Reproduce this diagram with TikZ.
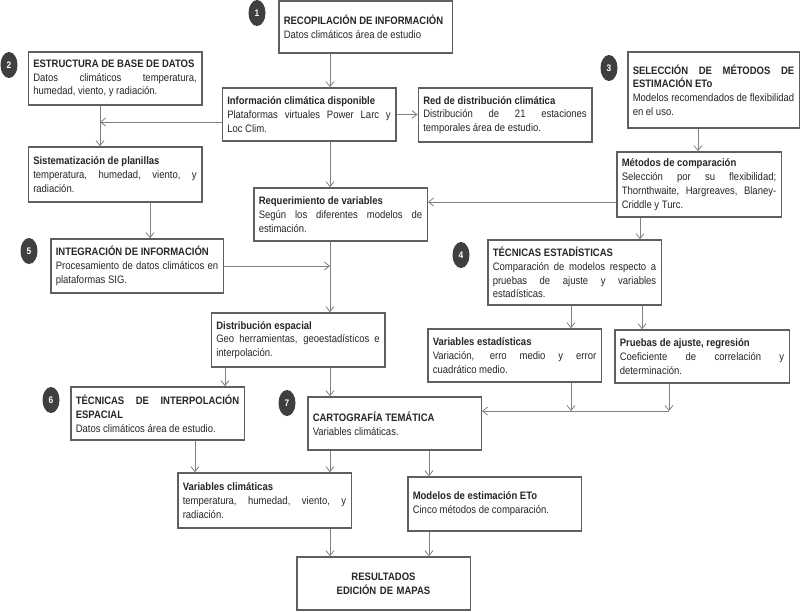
\documentclass[tikz,border=0pt]{standalone}
\usepackage{fontspec}
\setmainfont[FakeStretch=0.88]{Liberation Sans}
\usepackage{tikz}
\usetikzlibrary{arrows.meta,positioning,shapes.geometric}
\definecolor{boxgray}{HTML}{5F5F5F}
\definecolor{linegray}{HTML}{808080}
\definecolor{dotgray}{HTML}{3F3F3F}
\definecolor{ink}{HTML}{262626}

\begin{document}
\begin{tikzpicture}[x=1pt,y=-1pt,
    box/.style={draw=boxgray,line width=1.5pt,fill=white,align=justify,text width=163.5pt,minimum height=53pt,inner xsep=5pt,inner ysep=3pt,text=ink,font=\fontsize{10.8}{13.8}\selectfont},
    num/.style={ellipse,fill=dotgray,text=white,font=\bfseries\fontsize{9.5}{9.5}\selectfont,minimum width=17pt,minimum height=26pt,inner sep=0pt},
    arrow/.style={-{Straight Barb[length=5pt,width=8pt]},color=linegray,line width=0.8pt}
  ]
    \useasboundingbox (0,0) rectangle (802,611);
    \node[box,minimum height=52pt] (rec) at (365.5,27) {\textbf{RECOPILACIÓN DE INFORMACIÓN}\\Datos climáticos área de estudio};
    \node[box] (estr) at (115,78.5) {\textbf{ESTRUCTURA DE BASE DE DATOS}\\Datos climáticos temperatura,\linebreak humedad, viento, y radiación.};
    \node[box] (info) at (309,114.5) {\textbf{Información climática disponible}\\Plataformas virtuales Power Larc y\linebreak Loc Clim.};
    \node[box,minimum height=54pt] (red) at (505,115) {\textbf{Red de distribución climática}\\Distribución de 21 estaciones\linebreak temporales área de estudio.};
    \node[box,text width=161.5pt,minimum height=76pt] (sel) at (713.5,90) {\textbf{SELECCIÓN DE MÉTODOS DE\linebreak ESTIMACIÓN ETo}\\Modelos recomendados de flexibilidad\linebreak en el uso.};
    \node[box,minimum height=55pt] (sist) at (115,174.5) {\textbf{Sistematización de planillas}\\temperatura, humedad, viento, y\linebreak radiación.};
    \node[box] (req) at (340.5,214.5) {\textbf{Requerimiento de variables}\\Según los diferentes modelos de\linebreak estimación.};
    \node[box,text width=154.5pt,minimum height=65pt] (met) at (699,184.5) {\textbf{Métodos de comparación}\\Selección por su flexibilidad;\linebreak Thornthwaite, Hargreaves, Blaney-\linebreak Criddle y Turc.};
    \node[box,minimum height=65pt] (tecest) at (574.5,272.5) {\textbf{TÉCNICAS ESTADÍSTICAS}\\Comparación de modelos respecto a\linebreak pruebas de ajuste y variables\linebreak estadísticas.};
    \node[box,text width=162.5pt,minimum height=54pt] (integ) at (137,266) {\textbf{INTEGRACIÓN DE INFORMACIÓN}\\Procesamiento de datos climáticos en\linebreak plataformas SIG.};
    \node[box,minimum height=54pt] (dist) at (298,340) {\textbf{Distribución espacial}\\Geo herramientas, geoestadísticos e\linebreak interpolación.};
    \node[box] (interp) at (157.5,413.5) {\textbf{TÉCNICAS DE INTERPOLACIÓN\linebreak ESPACIAL}\\Datos climáticos área de estudio.};
    \node[box] (carto) at (394.5,423.5) {\textbf{CARTOGRAFÍA TEMÁTICA}\\Variables climáticas.};
    \node[box] (varest) at (514.5,355.5) {\textbf{Variables estadísticas}\\Variación, erro medio y error\linebreak cuadrático medio.};
    \node[box,text width=164.5pt] (prue) at (702,356.5) {\textbf{Pruebas de ajuste, regresión}\\Coeficiente de correlación y\linebreak determinación.};
    \node[box,minimum height=55pt] (varcli) at (264.5,500.5) {\textbf{Variables climáticas}\\temperatura, humedad, viento, y\linebreak radiación.};
    \node[box,minimum height=54pt] (model) at (494.5,504) {\textbf{Modelos de estimación ETo}\\Cinco métodos de comparación.};
    \node[box,align=center] (res) at (383.5,583.5) {\textbf{RESULTADOS}\\\textbf{EDICIÓN DE MAPAS}};

    \node[num] (n1) at (257,13) {1};
    \node[num] (n2) at (9,65) {2};
    \node[num] (n3) at (609,68) {3};
    \node[num] (n4) at (461,255) {4};
    \node[num] (n5) at (29,251) {5};
    \node[num] (n6) at (51,400) {6};
    \node[num] (n7) at (287,403) {7};

    \coordinate (spine) at (330,0);
    \coordinate (split) at (100,122);
    \coordinate (sistout) at (150,0);
    \coordinate (selout) at (698,0);
    \coordinate (metleft) at (0,202);
    \coordinate (metout) at (640,0);
    \coordinate (estleft) at (571,0);
    \coordinate (estright) at (642,0);
    \coordinate (merge) at (669,411);
    \coordinate (distleft) at (225,0);
    \coordinate (interpout) at (195,0);
    \coordinate (cartoright) at (429,0);

    \draw[arrow] (rec.south -| spine) -- (info.north -| spine);
    \draw[arrow] (info.south -| spine) -- (req.north -| spine);
    \draw[arrow] (req.south -| spine) -- (dist.north -| spine);
    \draw[arrow] (info.east) -- (info.east -| red.west);
    \draw[arrow] (info.west |- split) -- (split);
    \draw[arrow] (estr.south -| split) -- (sist.north -| split);
    \draw[arrow] (sist.south -| sistout) -- (integ.north -| sistout);
    \draw[arrow] (integ.east) -- (integ.east -| spine);
    \draw[arrow] (sel.south -| selout) -- (met.north -| selout);
    \draw[arrow] (met.west |- metleft) -- (req.east |- metleft);
    \draw[arrow] (met.south -| metout) -- (tecest.north -| metout);
    \draw[arrow] (tecest.south -| estleft) -- (varest.north -| estleft);
    \draw[arrow] (tecest.south -| estright) -- (prue.north -| estright);
    \draw[arrow] (varest.south -| estleft) -- (estleft |- merge);
    \draw[arrow] (prue.south -| merge) -- (merge);
    \draw[arrow] (merge) -- (carto.east |- merge);
    \draw[arrow] (dist.south -| distleft) -- (interp.north -| distleft);
    \draw[arrow] (dist.south -| spine) -- (carto.north -| spine);
    \draw[arrow] (interp.south -| interpout) -- (varcli.north -| interpout);
    \draw[arrow] (carto.south -| spine) -- (varcli.north -| spine);
    \draw[arrow] (carto.south -| cartoright) -- (model.north -| cartoright);
    \draw[arrow] (varcli.south -| spine) -- (res.north -| spine);
    \draw[arrow] (model.south -| cartoright) -- (res.north -| cartoright);
  \end{tikzpicture}
\end{document}
